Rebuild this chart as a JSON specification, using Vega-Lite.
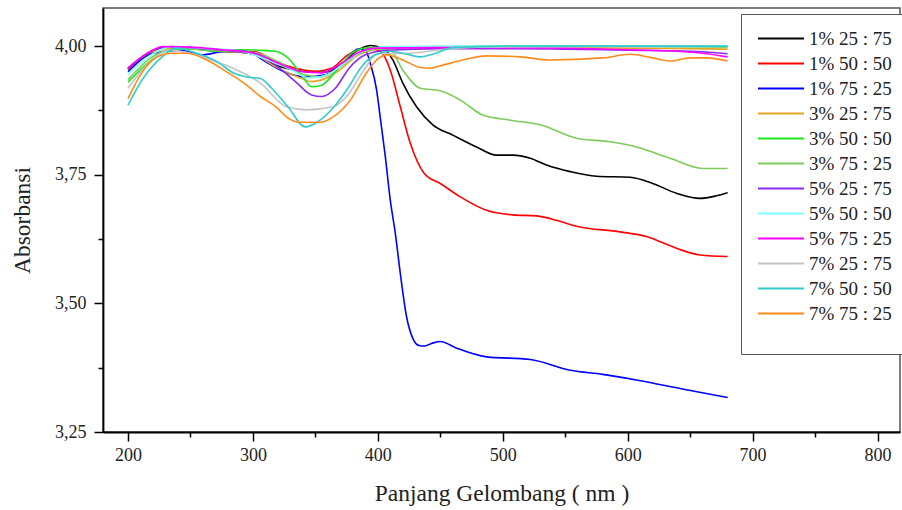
{
  "$schema": "https://vega.github.io/schema/vega-lite/v6.json",
  "width": 797,
  "height": 424,
  "autosize": {"type": "none"},
  "padding": {"left": 103, "top": 8, "right": 2, "bottom": 78},
  "background": "white",
  "config": {
    "view": {"stroke": "#555", "strokeWidth": 1.5},
    "font": "Liberation Serif"
  },
  "datasets": {
    "spectra": [
      {"s": "1% 25 : 75", "nm": 200, "a": 3.955}, {"s": "1% 25 : 75", "nm": 210, "a": 3.975}, {"s": "1% 25 : 75", "nm": 220, "a": 3.99}, {"s": "1% 25 : 75", "nm": 235, "a": 3.998}, {"s": "1% 25 : 75", "nm": 250, "a": 3.996}, {"s": "1% 25 : 75", "nm": 270, "a": 3.99}, {"s": "1% 25 : 75", "nm": 290, "a": 3.988}, {"s": "1% 25 : 75", "nm": 302, "a": 3.983}, {"s": "1% 25 : 75", "nm": 318, "a": 3.963}, {"s": "1% 25 : 75", "nm": 334, "a": 3.953}, {"s": "1% 25 : 75", "nm": 350, "a": 3.949}, {"s": "1% 25 : 75", "nm": 360, "a": 3.95}, {"s": "1% 25 : 75", "nm": 371, "a": 3.966}, {"s": "1% 25 : 75", "nm": 382, "a": 3.989}, {"s": "1% 25 : 75", "nm": 394, "a": 4.001}, {"s": "1% 25 : 75", "nm": 404, "a": 3.996}, {"s": "1% 25 : 75", "nm": 412, "a": 3.973}, {"s": "1% 25 : 75", "nm": 420, "a": 3.928}, {"s": "1% 25 : 75", "nm": 431, "a": 3.882}, {"s": "1% 25 : 75", "nm": 444, "a": 3.847}, {"s": "1% 25 : 75", "nm": 460, "a": 3.827}, {"s": "1% 25 : 75", "nm": 479, "a": 3.804}, {"s": "1% 25 : 75", "nm": 495, "a": 3.788}, {"s": "1% 25 : 75", "nm": 508, "a": 3.788}, {"s": "1% 25 : 75", "nm": 522, "a": 3.782}, {"s": "1% 25 : 75", "nm": 535, "a": 3.769}, {"s": "1% 25 : 75", "nm": 554, "a": 3.756}, {"s": "1% 25 : 75", "nm": 575, "a": 3.747}, {"s": "1% 25 : 75", "nm": 602, "a": 3.745}, {"s": "1% 25 : 75", "nm": 620, "a": 3.733}, {"s": "1% 25 : 75", "nm": 639, "a": 3.714}, {"s": "1% 25 : 75", "nm": 658, "a": 3.704}, {"s": "1% 25 : 75", "nm": 671, "a": 3.709}, {"s": "1% 25 : 75", "nm": 680, "a": 3.715},

      {"s": "1% 50 : 50", "nm": 200, "a": 3.955}, {"s": "1% 50 : 50", "nm": 215, "a": 3.985}, {"s": "1% 50 : 50", "nm": 230, "a": 3.998}, {"s": "1% 50 : 50", "nm": 250, "a": 3.997}, {"s": "1% 50 : 50", "nm": 270, "a": 3.993}, {"s": "1% 50 : 50", "nm": 290, "a": 3.99}, {"s": "1% 50 : 50", "nm": 302, "a": 3.989}, {"s": "1% 50 : 50", "nm": 318, "a": 3.97}, {"s": "1% 50 : 50", "nm": 334, "a": 3.957}, {"s": "1% 50 : 50", "nm": 350, "a": 3.951}, {"s": "1% 50 : 50", "nm": 363, "a": 3.957}, {"s": "1% 50 : 50", "nm": 376, "a": 3.983}, {"s": "1% 50 : 50", "nm": 390, "a": 3.996}, {"s": "1% 50 : 50", "nm": 399, "a": 3.993}, {"s": "1% 50 : 50", "nm": 404, "a": 3.985}, {"s": "1% 50 : 50", "nm": 410, "a": 3.953}, {"s": "1% 50 : 50", "nm": 418, "a": 3.882}, {"s": "1% 50 : 50", "nm": 426, "a": 3.811}, {"s": "1% 50 : 50", "nm": 437, "a": 3.753}, {"s": "1% 50 : 50", "nm": 450, "a": 3.733}, {"s": "1% 50 : 50", "nm": 466, "a": 3.707}, {"s": "1% 50 : 50", "nm": 487, "a": 3.681}, {"s": "1% 50 : 50", "nm": 508, "a": 3.672}, {"s": "1% 50 : 50", "nm": 527, "a": 3.67}, {"s": "1% 50 : 50", "nm": 545, "a": 3.66}, {"s": "1% 50 : 50", "nm": 559, "a": 3.65}, {"s": "1% 50 : 50", "nm": 594, "a": 3.639}, {"s": "1% 50 : 50", "nm": 615, "a": 3.63}, {"s": "1% 50 : 50", "nm": 639, "a": 3.607}, {"s": "1% 50 : 50", "nm": 658, "a": 3.594}, {"s": "1% 50 : 50", "nm": 680, "a": 3.591},

      {"s": "1% 75 : 25", "nm": 200, "a": 3.95}, {"s": "1% 75 : 25", "nm": 220, "a": 3.986}, {"s": "1% 75 : 25", "nm": 242, "a": 3.992}, {"s": "1% 75 : 25", "nm": 260, "a": 3.983}, {"s": "1% 75 : 25", "nm": 274, "a": 3.989}, {"s": "1% 75 : 25", "nm": 287, "a": 3.992}, {"s": "1% 75 : 25", "nm": 300, "a": 3.985}, {"s": "1% 75 : 25", "nm": 310, "a": 3.97}, {"s": "1% 75 : 25", "nm": 328, "a": 3.947}, {"s": "1% 75 : 25", "nm": 342, "a": 3.94}, {"s": "1% 75 : 25", "nm": 358, "a": 3.944}, {"s": "1% 75 : 25", "nm": 374, "a": 3.97}, {"s": "1% 75 : 25", "nm": 384, "a": 3.994}, {"s": "1% 75 : 25", "nm": 390, "a": 3.992}, {"s": "1% 75 : 25", "nm": 394, "a": 3.966}, {"s": "1% 75 : 25", "nm": 399, "a": 3.915}, {"s": "1% 75 : 25", "nm": 402, "a": 3.86}, {"s": "1% 75 : 25", "nm": 406, "a": 3.785}, {"s": "1% 75 : 25", "nm": 410, "a": 3.7}, {"s": "1% 75 : 25", "nm": 414, "a": 3.636}, {"s": "1% 75 : 25", "nm": 418, "a": 3.558}, {"s": "1% 75 : 25", "nm": 423, "a": 3.474}, {"s": "1% 75 : 25", "nm": 428, "a": 3.432}, {"s": "1% 75 : 25", "nm": 433, "a": 3.418}, {"s": "1% 75 : 25", "nm": 437, "a": 3.417}, {"s": "1% 75 : 25", "nm": 443, "a": 3.422}, {"s": "1% 75 : 25", "nm": 450, "a": 3.426}, {"s": "1% 75 : 25", "nm": 463, "a": 3.413}, {"s": "1% 75 : 25", "nm": 487, "a": 3.396}, {"s": "1% 75 : 25", "nm": 522, "a": 3.391}, {"s": "1% 75 : 25", "nm": 554, "a": 3.37}, {"s": "1% 75 : 25", "nm": 580, "a": 3.362}, {"s": "1% 75 : 25", "nm": 607, "a": 3.351}, {"s": "1% 75 : 25", "nm": 647, "a": 3.332}, {"s": "1% 75 : 25", "nm": 680, "a": 3.317},

      {"s": "3% 25 : 75", "nm": 200, "a": 3.957}, {"s": "3% 25 : 75", "nm": 220, "a": 3.99}, {"s": "3% 25 : 75", "nm": 240, "a": 3.997}, {"s": "3% 25 : 75", "nm": 260, "a": 3.993}, {"s": "3% 25 : 75", "nm": 280, "a": 3.99}, {"s": "3% 25 : 75", "nm": 300, "a": 3.985}, {"s": "3% 25 : 75", "nm": 318, "a": 3.96}, {"s": "3% 25 : 75", "nm": 336, "a": 3.94}, {"s": "3% 25 : 75", "nm": 347, "a": 3.931}, {"s": "3% 25 : 75", "nm": 358, "a": 3.937}, {"s": "3% 25 : 75", "nm": 369, "a": 3.953}, {"s": "3% 25 : 75", "nm": 382, "a": 3.979}, {"s": "3% 25 : 75", "nm": 395, "a": 3.992}, {"s": "3% 25 : 75", "nm": 410, "a": 3.996}, {"s": "3% 25 : 75", "nm": 450, "a": 3.998}, {"s": "3% 25 : 75", "nm": 500, "a": 3.998}, {"s": "3% 25 : 75", "nm": 550, "a": 3.997}, {"s": "3% 25 : 75", "nm": 600, "a": 3.996}, {"s": "3% 25 : 75", "nm": 650, "a": 3.995}, {"s": "3% 25 : 75", "nm": 680, "a": 3.994},

      {"s": "3% 50 : 50", "nm": 200, "a": 3.93}, {"s": "3% 50 : 50", "nm": 215, "a": 3.965}, {"s": "3% 50 : 50", "nm": 230, "a": 3.99}, {"s": "3% 50 : 50", "nm": 250, "a": 3.995}, {"s": "3% 50 : 50", "nm": 270, "a": 3.99}, {"s": "3% 50 : 50", "nm": 290, "a": 3.993}, {"s": "3% 50 : 50", "nm": 305, "a": 3.992}, {"s": "3% 50 : 50", "nm": 318, "a": 3.99}, {"s": "3% 50 : 50", "nm": 328, "a": 3.977}, {"s": "3% 50 : 50", "nm": 339, "a": 3.944}, {"s": "3% 50 : 50", "nm": 347, "a": 3.921}, {"s": "3% 50 : 50", "nm": 355, "a": 3.924}, {"s": "3% 50 : 50", "nm": 366, "a": 3.95}, {"s": "3% 50 : 50", "nm": 379, "a": 3.986}, {"s": "3% 50 : 50", "nm": 390, "a": 3.996}, {"s": "3% 50 : 50", "nm": 410, "a": 3.998}, {"s": "3% 50 : 50", "nm": 450, "a": 3.999}, {"s": "3% 50 : 50", "nm": 500, "a": 4.0}, {"s": "3% 50 : 50", "nm": 600, "a": 4.0}, {"s": "3% 50 : 50", "nm": 680, "a": 3.998},

      {"s": "3% 75 : 25", "nm": 200, "a": 3.935}, {"s": "3% 75 : 25", "nm": 220, "a": 3.98}, {"s": "3% 75 : 25", "nm": 240, "a": 3.995}, {"s": "3% 75 : 25", "nm": 260, "a": 3.993}, {"s": "3% 75 : 25", "nm": 280, "a": 3.99}, {"s": "3% 75 : 25", "nm": 300, "a": 3.988}, {"s": "3% 75 : 25", "nm": 320, "a": 3.97}, {"s": "3% 75 : 25", "nm": 340, "a": 3.945}, {"s": "3% 75 : 25", "nm": 355, "a": 3.94}, {"s": "3% 75 : 25", "nm": 370, "a": 3.96}, {"s": "3% 75 : 25", "nm": 385, "a": 3.985}, {"s": "3% 75 : 25", "nm": 400, "a": 3.995}, {"s": "3% 75 : 25", "nm": 410, "a": 3.992}, {"s": "3% 75 : 25", "nm": 420, "a": 3.953}, {"s": "3% 75 : 25", "nm": 434, "a": 3.918}, {"s": "3% 75 : 25", "nm": 450, "a": 3.913}, {"s": "3% 75 : 25", "nm": 466, "a": 3.895}, {"s": "3% 75 : 25", "nm": 484, "a": 3.866}, {"s": "3% 75 : 25", "nm": 506, "a": 3.856}, {"s": "3% 75 : 25", "nm": 530, "a": 3.847}, {"s": "3% 75 : 25", "nm": 559, "a": 3.821}, {"s": "3% 75 : 25", "nm": 586, "a": 3.814}, {"s": "3% 75 : 25", "nm": 607, "a": 3.804}, {"s": "3% 75 : 25", "nm": 634, "a": 3.782}, {"s": "3% 75 : 25", "nm": 660, "a": 3.762}, {"s": "3% 75 : 25", "nm": 680, "a": 3.762},

      {"s": "5% 25 : 75", "nm": 200, "a": 3.957}, {"s": "5% 25 : 75", "nm": 220, "a": 3.992}, {"s": "5% 25 : 75", "nm": 234, "a": 3.999}, {"s": "5% 25 : 75", "nm": 260, "a": 3.995}, {"s": "5% 25 : 75", "nm": 285, "a": 3.99}, {"s": "5% 25 : 75", "nm": 302, "a": 3.983}, {"s": "5% 25 : 75", "nm": 318, "a": 3.963}, {"s": "5% 25 : 75", "nm": 334, "a": 3.931}, {"s": "5% 25 : 75", "nm": 347, "a": 3.905}, {"s": "5% 25 : 75", "nm": 355, "a": 3.902}, {"s": "5% 25 : 75", "nm": 366, "a": 3.918}, {"s": "5% 25 : 75", "nm": 377, "a": 3.957}, {"s": "5% 25 : 75", "nm": 390, "a": 3.983}, {"s": "5% 25 : 75", "nm": 408, "a": 3.992}, {"s": "5% 25 : 75", "nm": 450, "a": 3.995}, {"s": "5% 25 : 75", "nm": 500, "a": 3.995}, {"s": "5% 25 : 75", "nm": 550, "a": 3.994}, {"s": "5% 25 : 75", "nm": 600, "a": 3.992}, {"s": "5% 25 : 75", "nm": 650, "a": 3.99}, {"s": "5% 25 : 75", "nm": 680, "a": 3.985},

      {"s": "5% 50 : 50", "nm": 200, "a": 3.945}, {"s": "5% 50 : 50", "nm": 220, "a": 3.985}, {"s": "5% 50 : 50", "nm": 235, "a": 3.999}, {"s": "5% 50 : 50", "nm": 260, "a": 3.996}, {"s": "5% 50 : 50", "nm": 290, "a": 3.99}, {"s": "5% 50 : 50", "nm": 310, "a": 3.975}, {"s": "5% 50 : 50", "nm": 330, "a": 3.955}, {"s": "5% 50 : 50", "nm": 345, "a": 3.938}, {"s": "5% 50 : 50", "nm": 360, "a": 3.945}, {"s": "5% 50 : 50", "nm": 375, "a": 3.97}, {"s": "5% 50 : 50", "nm": 390, "a": 3.992}, {"s": "5% 50 : 50", "nm": 410, "a": 3.999}, {"s": "5% 50 : 50", "nm": 450, "a": 4.0}, {"s": "5% 50 : 50", "nm": 500, "a": 4.0}, {"s": "5% 50 : 50", "nm": 600, "a": 4.0}, {"s": "5% 50 : 50", "nm": 680, "a": 4.0},

      {"s": "5% 75 : 25", "nm": 200, "a": 3.957}, {"s": "5% 75 : 25", "nm": 215, "a": 3.985}, {"s": "5% 75 : 25", "nm": 228, "a": 3.999}, {"s": "5% 75 : 25", "nm": 250, "a": 3.998}, {"s": "5% 75 : 25", "nm": 275, "a": 3.993}, {"s": "5% 75 : 25", "nm": 300, "a": 3.987}, {"s": "5% 75 : 25", "nm": 320, "a": 3.967}, {"s": "5% 75 : 25", "nm": 340, "a": 3.95}, {"s": "5% 75 : 25", "nm": 355, "a": 3.948}, {"s": "5% 75 : 25", "nm": 370, "a": 3.965}, {"s": "5% 75 : 25", "nm": 385, "a": 3.988}, {"s": "5% 75 : 25", "nm": 400, "a": 3.996}, {"s": "5% 75 : 25", "nm": 450, "a": 3.997}, {"s": "5% 75 : 25", "nm": 500, "a": 3.997}, {"s": "5% 75 : 25", "nm": 550, "a": 3.996}, {"s": "5% 75 : 25", "nm": 600, "a": 3.993}, {"s": "5% 75 : 25", "nm": 630, "a": 3.991}, {"s": "5% 75 : 25", "nm": 660, "a": 3.986}, {"s": "5% 75 : 25", "nm": 680, "a": 3.979},

      {"s": "7% 25 : 75", "nm": 200, "a": 3.918}, {"s": "7% 25 : 75", "nm": 215, "a": 3.963}, {"s": "7% 25 : 75", "nm": 234, "a": 3.992}, {"s": "7% 25 : 75", "nm": 255, "a": 3.983}, {"s": "7% 25 : 75", "nm": 270, "a": 3.97}, {"s": "7% 25 : 75", "nm": 284, "a": 3.957}, {"s": "7% 25 : 75", "nm": 306, "a": 3.928}, {"s": "7% 25 : 75", "nm": 327, "a": 3.882}, {"s": "7% 25 : 75", "nm": 343, "a": 3.876}, {"s": "7% 25 : 75", "nm": 364, "a": 3.882}, {"s": "7% 25 : 75", "nm": 376, "a": 3.905}, {"s": "7% 25 : 75", "nm": 388, "a": 3.95}, {"s": "7% 25 : 75", "nm": 400, "a": 3.985}, {"s": "7% 25 : 75", "nm": 426, "a": 3.986}, {"s": "7% 25 : 75", "nm": 447, "a": 3.992}, {"s": "7% 25 : 75", "nm": 480, "a": 3.998}, {"s": "7% 25 : 75", "nm": 550, "a": 3.999}, {"s": "7% 25 : 75", "nm": 680, "a": 3.999},

      {"s": "7% 50 : 50", "nm": 200, "a": 3.885}, {"s": "7% 50 : 50", "nm": 212, "a": 3.937}, {"s": "7% 50 : 50", "nm": 226, "a": 3.976}, {"s": "7% 50 : 50", "nm": 239, "a": 3.996}, {"s": "7% 50 : 50", "nm": 255, "a": 3.986}, {"s": "7% 50 : 50", "nm": 271, "a": 3.97}, {"s": "7% 50 : 50", "nm": 285, "a": 3.947}, {"s": "7% 50 : 50", "nm": 295, "a": 3.94}, {"s": "7% 50 : 50", "nm": 306, "a": 3.937}, {"s": "7% 50 : 50", "nm": 315, "a": 3.918}, {"s": "7% 50 : 50", "nm": 328, "a": 3.882}, {"s": "7% 50 : 50", "nm": 342, "a": 3.843}, {"s": "7% 50 : 50", "nm": 352, "a": 3.853}, {"s": "7% 50 : 50", "nm": 366, "a": 3.885}, {"s": "7% 50 : 50", "nm": 376, "a": 3.918}, {"s": "7% 50 : 50", "nm": 387, "a": 3.96}, {"s": "7% 50 : 50", "nm": 398, "a": 3.983}, {"s": "7% 50 : 50", "nm": 410, "a": 3.99}, {"s": "7% 50 : 50", "nm": 422, "a": 3.985}, {"s": "7% 50 : 50", "nm": 434, "a": 3.979}, {"s": "7% 50 : 50", "nm": 445, "a": 3.985}, {"s": "7% 50 : 50", "nm": 460, "a": 3.997}, {"s": "7% 50 : 50", "nm": 500, "a": 4.0}, {"s": "7% 50 : 50", "nm": 600, "a": 4.0}, {"s": "7% 50 : 50", "nm": 680, "a": 4.0},

      {"s": "7% 75 : 25", "nm": 200, "a": 3.898}, {"s": "7% 75 : 25", "nm": 210, "a": 3.944}, {"s": "7% 75 : 25", "nm": 220, "a": 3.973}, {"s": "7% 75 : 25", "nm": 234, "a": 3.986}, {"s": "7% 75 : 25", "nm": 247, "a": 3.986}, {"s": "7% 75 : 25", "nm": 263, "a": 3.973}, {"s": "7% 75 : 25", "nm": 279, "a": 3.95}, {"s": "7% 75 : 25", "nm": 295, "a": 3.924}, {"s": "7% 75 : 25", "nm": 306, "a": 3.902}, {"s": "7% 75 : 25", "nm": 319, "a": 3.881}, {"s": "7% 75 : 25", "nm": 327, "a": 3.862}, {"s": "7% 75 : 25", "nm": 338, "a": 3.852}, {"s": "7% 75 : 25", "nm": 354, "a": 3.852}, {"s": "7% 75 : 25", "nm": 364, "a": 3.862}, {"s": "7% 75 : 25", "nm": 378, "a": 3.895}, {"s": "7% 75 : 25", "nm": 391, "a": 3.948}, {"s": "7% 75 : 25", "nm": 400, "a": 3.975}, {"s": "7% 75 : 25", "nm": 407, "a": 3.983}, {"s": "7% 75 : 25", "nm": 420, "a": 3.973}, {"s": "7% 75 : 25", "nm": 433, "a": 3.959}, {"s": "7% 75 : 25", "nm": 442, "a": 3.957}, {"s": "7% 75 : 25", "nm": 452, "a": 3.963}, {"s": "7% 75 : 25", "nm": 468, "a": 3.973}, {"s": "7% 75 : 25", "nm": 487, "a": 3.981}, {"s": "7% 75 : 25", "nm": 514, "a": 3.979}, {"s": "7% 75 : 25", "nm": 538, "a": 3.973}, {"s": "7% 75 : 25", "nm": 580, "a": 3.977}, {"s": "7% 75 : 25", "nm": 602, "a": 3.984}, {"s": "7% 75 : 25", "nm": 620, "a": 3.977}, {"s": "7% 75 : 25", "nm": 634, "a": 3.971}, {"s": "7% 75 : 25", "nm": 650, "a": 3.977}, {"s": "7% 75 : 25", "nm": 663, "a": 3.977}, {"s": "7% 75 : 25", "nm": 680, "a": 3.971}
    ]
  },
  "data": {"name": "spectra"},
  "mark": {"type": "line", "interpolate": "monotone", "strokeWidth": 1.6, "clip": true},
  "encoding": {
    "x": {
      "field": "nm", "type": "quantitative",
      "scale": {"domain": [180, 818], "nice": false, "zero": false},
      "axis": {
        "title": "Panjang Gelombang ( nm )",
        "values": [200, 250, 300, 350, 400, 450, 500, 550, 600, 650, 700, 750, 800],
        "labelExpr": "datum.value % 100 === 0 ? datum.label : ''",
        "tickSize": {"condition": {"test": "datum.value % 100 === 0", "value": 9}, "value": 5},
        "grid": false,
        "domainColor": "#000", "domainWidth": 1.8,
        "tickColor": "#000", "tickWidth": 1.5,
        "labelFont": "Liberation Serif", "labelFontSize": 18, "labelColor": "#222", "labelPadding": 5,
        "titleFont": "Liberation Serif", "titleFontSize": 23.5, "titleFontWeight": "normal", "titleColor": "#222", "titlePadding": 17
      }
    },
    "y": {
      "field": "a", "type": "quantitative",
      "scale": {"domain": [3.25, 4.074], "nice": false, "zero": false},
      "axis": {
        "title": "Absorbansi",
        "values": [3.25, 3.375, 3.5, 3.625, 3.75, 3.875, 4.0],
        "labelExpr": "datum.value % 0.25 === 0 ? replace(format(datum.value, '.2f'), '.', ',') : ''",
        "tickSize": {"condition": {"test": "datum.value % 0.25 === 0", "value": 9}, "value": 5},
        "grid": false,
        "domainColor": "#000", "domainWidth": 1.8,
        "tickColor": "#000", "tickWidth": 1.5,
        "labelFont": "Liberation Serif", "labelFontSize": 18, "labelColor": "#222", "labelPadding": 8,
        "titleFont": "Liberation Serif", "titleFontSize": 23.5, "titleFontWeight": "normal", "titleColor": "#222", "titlePadding": 20
      }
    },
    "color": {
      "field": "s", "type": "nominal",
      "scale": {
        "domain": ["1% 25 : 75", "1% 50 : 50", "1% 75 : 25", "3% 25 : 75", "3% 50 : 50", "3% 75 : 25", "5% 25 : 75", "5% 50 : 50", "5% 75 : 25", "7% 25 : 75", "7% 50 : 50", "7% 75 : 25"],
        "range": ["#000000", "#ff0000", "#0000ff", "#e5a323", "#1fe51f", "#7dcb5a", "#8c2bf0", "#80ffff", "#ff00ff", "#c4c4c4", "#33cccc", "#ff8c1a"]
      },
      "legend": {
        "title": " ",
        "titleOrient": "bottom",
        "titleFontSize": 12,
        "titlePadding": 5,
        "orient": "none",
        "legendX": 638,
        "legendY": 6,
        "padding": 12,
        "strokeColor": "#555",
        "fillColor": "white",
        "symbolType": "stroke",
        "symbolSize": 2116,
        "symbolStrokeWidth": 2,
        "symbolOffset": 4,
        "clipHeight": 25,
        "rowPadding": 0,
        "labelFont": "Liberation Serif",
        "labelFontSize": 19,
        "labelColor": "#222",
        "labelOffset": 4,
        "labelLimit": 200
      }
    }
  }
}
